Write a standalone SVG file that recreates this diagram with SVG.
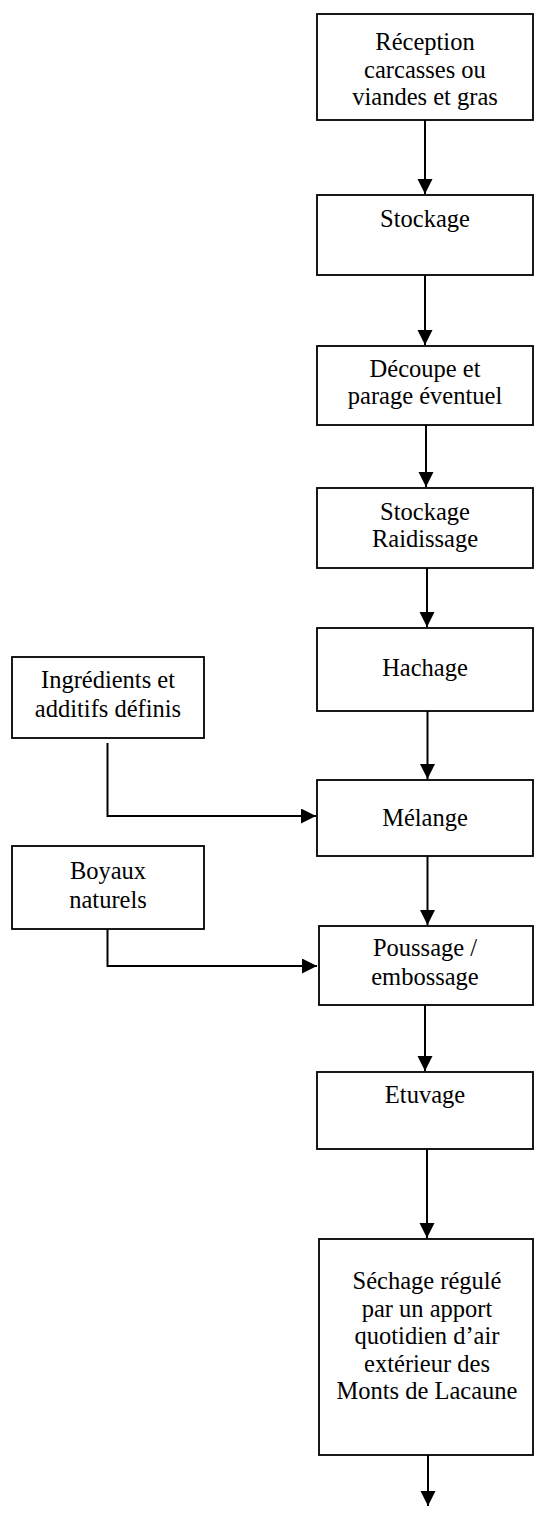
<svg xmlns="http://www.w3.org/2000/svg" width="534" height="1515" viewBox="0 0 534 1515">
<style>
.box{fill:#fff;stroke:#000;stroke-width:1.8}
.t{font-family:"Liberation Serif","Times New Roman",serif;font-size:24.5px;fill:#000;text-anchor:middle}
.c{fill:none;stroke:#000;stroke-width:2}
</style>
<defs>
<marker id="ah" markerUnits="userSpaceOnUse" markerWidth="15" markerHeight="16" refX="15" refY="7.5" orient="auto">
<path d="M0,0 L15,7.5 L0,15 Z" fill="#000"/>
</marker>
</defs>
<rect width="534" height="1515" fill="#fff"/>
<g id="n1"><rect class="box" x="317" y="14" width="216" height="106"/>
<text class="t"><tspan x="425" y="50">Réception</tspan><tspan x="425" y="77.5">carcasses ou</tspan><tspan x="425" y="105">viandes et gras</tspan></text></g>
<g id="n2"><rect class="box" x="317" y="195" width="216" height="80"/>
<text class="t" x="425" y="227">Stockage</text></g>
<g id="n3"><rect class="box" x="317" y="346" width="216" height="79"/>
<text class="t"><tspan x="425" y="377">Découpe et</tspan><tspan x="425" y="404">parage éventuel</tspan></text></g>
<g id="n4"><rect class="box" x="317" y="488" width="216" height="80"/>
<text class="t"><tspan x="425" y="520">Stockage</tspan><tspan x="425" y="547">Raidissage</tspan></text></g>
<g id="n5"><rect class="box" x="317" y="628" width="216" height="83"/>
<text class="t" x="425" y="676">Hachage</text></g>
<g id="n6"><rect class="box" x="12" y="657" width="192" height="81"/>
<text class="t"><tspan x="108" y="688">Ingrédients et</tspan><tspan x="108" y="717">additifs définis</tspan></text></g>
<g id="n7"><rect class="box" x="317" y="780" width="216" height="76"/>
<text class="t" x="425" y="826">Mélange</text></g>
<g id="n8"><rect class="box" x="12" y="846" width="192" height="83"/>
<text class="t"><tspan x="108" y="879">Boyaux</tspan><tspan x="108" y="908">naturels</tspan></text></g>
<g id="n9"><rect class="box" x="319" y="926" width="214" height="79"/>
<text class="t"><tspan x="425" y="956">Poussage /</tspan><tspan x="425" y="985">embossage</tspan></text></g>
<g id="n10"><rect class="box" x="317" y="1072" width="216" height="77"/>
<text class="t" x="425" y="1103">Etuvage</text></g>
<g id="n11"><rect class="box" x="319" y="1239" width="214" height="216"/>
<text class="t"><tspan x="427" y="1289">Séchage régulé</tspan><tspan x="427" y="1317">par un apport</tspan><tspan x="427" y="1344">quotidien d’air</tspan><tspan x="427" y="1372">extérieur des</tspan><tspan x="427" y="1399">Monts de Lacaune</tspan></text></g>
<g id="connectors">
<line class="c" x1="425" y1="120" x2="425" y2="194" marker-end="url(#ah)"/>
<line class="c" x1="425" y1="275" x2="425" y2="345" marker-end="url(#ah)"/>
<line class="c" x1="426" y1="425" x2="426" y2="487" marker-end="url(#ah)"/>
<line class="c" x1="427" y1="568" x2="427" y2="627" marker-end="url(#ah)"/>
<line class="c" x1="427.5" y1="711" x2="427.5" y2="779" marker-end="url(#ah)"/>
<line class="c" x1="427.5" y1="856" x2="427.5" y2="925" marker-end="url(#ah)"/>
<line class="c" x1="425" y1="1005" x2="425" y2="1071" marker-end="url(#ah)"/>
<line class="c" x1="427" y1="1149" x2="427" y2="1238" marker-end="url(#ah)"/>
<line class="c" x1="428" y1="1455" x2="428" y2="1506" marker-end="url(#ah)"/>
<polyline class="c" points="107.5,743 107.5,816 316,816" marker-end="url(#ah)"/>
<polyline class="c" points="107.5,929 107.5,966 317,966" marker-end="url(#ah)"/>
</g>
</svg>
